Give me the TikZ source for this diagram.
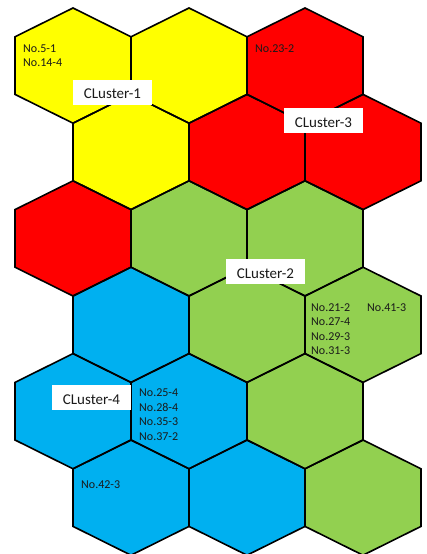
\documentclass[tikz,border=0pt]{standalone}
\usepackage{fontspec}
\setmainfont{Carlito}
\definecolor{cyel}{HTML}{FFFF00}
\definecolor{cred}{HTML}{FF0000}
\definecolor{cgrn}{HTML}{92D050}
\definecolor{cblu}{HTML}{00B0F0}
\definecolor{ctxt}{HTML}{1A1A1A}
\newcommand\hexpath{(0,-57.6) -- (58,-28.8) -- (58,28.8) -- (0,57.6) -- (-58,28.8) -- (-58,-28.8) -- cycle}
\begin{document}
\begin{tikzpicture}[x=1bp,y=-1bp,
  hexfill/.style={fill=#1},
  hexline/.style={draw=black,line width=1.6bp,line join=miter},
  clusterlab/.style={fill=white,inner sep=0pt,minimum width=79bp,minimum height=25bp,
    text height=13bp,text depth=0pt,
    font=\fontsize{15bp}{18bp}\selectfont,text=ctxt},
  itemlab/.style={anchor=base west,inner sep=0pt,font=\fontsize{12bp}{14bp}\selectfont,text=ctxt}]
\useasboundingbox (0,0) rectangle (426,554);
\begin{scope}
\clip (0,0) rectangle (426,554);
% fills
\foreach \cx/\cy/\col in {73/65.6/cyel,189/65.6/cyel,305/65.6/cred,
  131/152/cyel,247/152/cred,363/152/cred,
  73/238.4/cred,189/238.4/cgrn,305/238.4/cgrn,
  131/324.8/cblu,247/324.8/cgrn,363/324.8/cgrn,
  73/411.2/cblu,189/411.2/cblu,305/411.2/cgrn,
  131/497.6/cblu,247/497.6/cblu,363/497.6/cgrn}
  {\fill[hexfill=\col,shift={(\cx,\cy)}] \hexpath;}
% outlines
\foreach \cx/\cy in {73/65.6,189/65.6,305/65.6,
  131/152,247/152,363/152,
  73/238.4,189/238.4,305/238.4,
  131/324.8,247/324.8,363/324.8,
  73/411.2,189/411.2,305/411.2,
  131/497.6,247/497.6,363/497.6}
  {\draw[hexline,shift={(\cx,\cy)}] \hexpath;}
\end{scope}
% cluster labels
\node[clusterlab] (c1) at (112.5,92.5) {CLuster-1};
\node[clusterlab] (c2) at (265.5,271.5) {CLuster-2};
\node[clusterlab] (c3) at (323.5,121) {CLuster-3};
\node[clusterlab] (c4) at (91.5,397.5) {CLuster-4};
% item labels
\node[itemlab] (n5) at (23,53) {No.5-1};
\node[itemlab] (n14) at (23,67) {No.14-4};
\node[itemlab] (n23) at (255,53) {No.23-2};
\node[itemlab] (n21) at (311,311.7) {No.21-2};
\node[itemlab] (n27) at (311,325.7) {No.27-4};
\node[itemlab] (n29) at (311,340.5) {No.29-3};
\node[itemlab] (n31) at (311,354.3) {No.31-3};
\node[itemlab] (n41) at (367,311.7) {No.41-3};
\node[itemlab] (n25) at (139,396.7) {No.25-4};
\node[itemlab] (n28) at (139,411.5) {No.28-4};
\node[itemlab] (n35) at (139,425.7) {No.35-3};
\node[itemlab] (n37) at (139,440.5) {No.37-2};
\node[itemlab] (n42) at (81,488) {No.42-3};
\end{tikzpicture}
\end{document}
